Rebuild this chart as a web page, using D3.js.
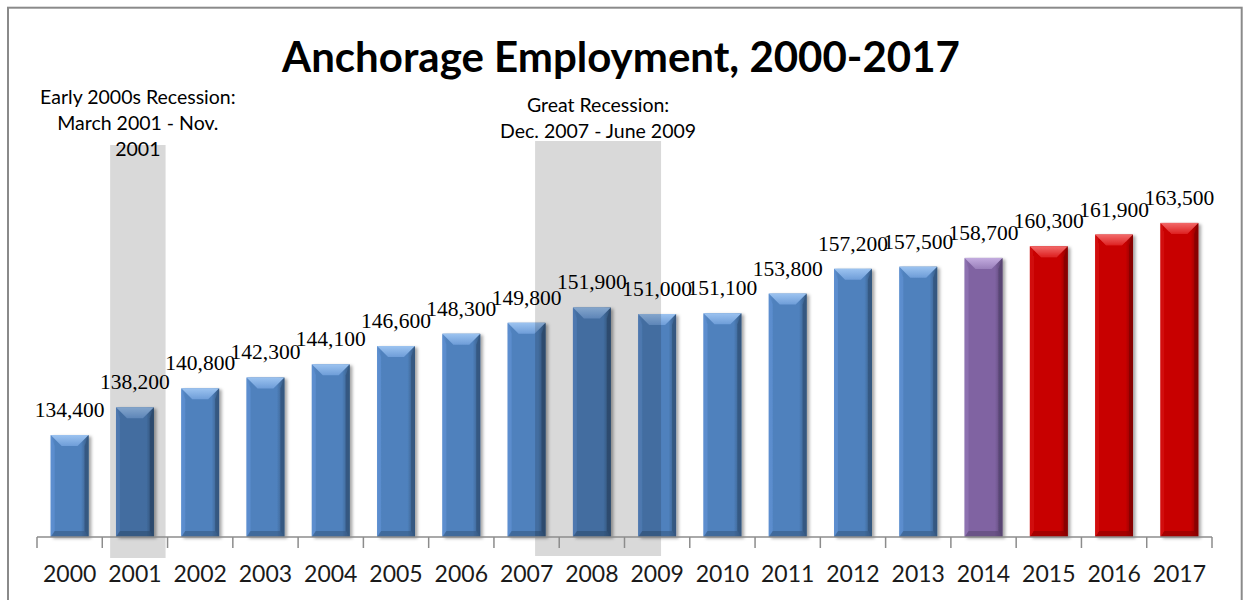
<!DOCTYPE html>
<html>
<head>
<meta charset="utf-8">
<script src="https://cdn.jsdelivr.net/npm/d3@7"></script>
<style>
  html, body { margin: 0; padding: 0; background: #fff; }
  svg { display: block; }
</style>
</head>
<body>
<svg id="chart" width="1243" height="600"></svg>
<script>
// Annual average employment in Anchorage
const years = ["2000","2001","2002","2003","2004","2005","2006","2007","2008",
               "2009","2010","2011","2012","2013","2014","2015","2016","2017"];
const employment = [134400,138200,140800,142300,144100,146600,148300,149800,151900,
                    151000,151100,153800,157200,157500,158700,160300,161900,163500];
// 2014 is the latest preliminary year, 2015-2017 are forecasts
const status = ["actual","actual","actual","actual","actual","actual","actual","actual","actual",
                "actual","actual","actual","actual","actual","preliminary","forecast","forecast","forecast"];

// Recession periods, placed along the year axis (fractional years between bar centres)
const recessionStart = [2000.62, 2007.13];
const recessionEnd   = [2001.47, 2009.06];
const recessionText  = [["Early 2000s Recession:", "March 2001 - Nov.", "2001"],
                        ["Great Recession:", "Dec. 2007 - June 2009"]];

const yDomain = [120000, 170000];
const titleText = "Anchorage Employment, 2000-2017";

const W = 1243, H = 600;
const plot = { left: 37, right: 1212, axis: 537, zero: 540, top: 175.5 };

const palette = {
  actual:      { base: "#4f81bd", light: "#9cc3f0", mid: "#6e9dd8", dark: "#34577f", edge: "#5d8fcf" },
  preliminary: { base: "#8064a2", light: "#c3acdf", mid: "#9a80bb", dark: "#574471", edge: "#8e73b1" },
  forecast:    { base: "#c80000", light: "#f26a6a", mid: "#dd2020", dark: "#860000", edge: "#d21010" }
};

const svg = d3.select("#chart");
const defs = svg.append("defs");

const shadow = defs.append("filter").attr("id", "barShadow")
  .attr("x", "-20%").attr("y", "-10%").attr("width", "150%").attr("height", "130%");
shadow.append("feDropShadow").attr("dx", 2.5).attr("dy", 1.5)
  .attr("stdDeviation", 1.6).attr("flood-color", "#000").attr("flood-opacity", 0.35);

Object.entries(palette).forEach(([k, c]) => {
  const body = defs.append("linearGradient").attr("id", "body-" + k)
    .attr("x1", "0%").attr("x2", "100%").attr("y1", "0%").attr("y2", "0%");
  body.append("stop").attr("offset", "0%").attr("stop-color", c.edge);
  body.append("stop").attr("offset", "12%").attr("stop-color", c.base);
  body.append("stop").attr("offset", "80%").attr("stop-color", c.base);
  body.append("stop").attr("offset", "100%").attr("stop-color", c.dark);

  const top = defs.append("linearGradient").attr("id", "top-" + k)
    .attr("x1", "0%").attr("x2", "0%").attr("y1", "0%").attr("y2", "100%");
  top.append("stop").attr("offset", "0%").attr("stop-color", c.light);
  top.append("stop").attr("offset", "100%").attr("stop-color", c.mid);
});

// Scales
const x = d3.scaleBand().domain(years).range([plot.left, plot.right])
  .paddingInner(0.42).paddingOuter(0.21);
const y = d3.scaleLinear().domain(yDomain).range([plot.zero, plot.top]);
const bw = x.bandwidth();
const yearPos = d3.scaleLinear()
  .domain([+years[0], +years[years.length - 1]])
  .range([x(years[0]) + bw / 2, x(years[years.length - 1]) + bw / 2]);

// Outer frame
svg.append("rect").attr("x", 8).attr("y", 7.7).attr("width", 1233.7).attr("height", 620)
  .attr("fill", "none").attr("stroke", "#8a8a8a").attr("stroke-width", 2);

// Title
svg.append("text").attr("x", 621).attr("y", 72)
  .attr("text-anchor", "middle")
  .style("font-family", "Lato, 'Open Sans', sans-serif")
  .style("font-weight", "bold").style("font-size", "42px").style("fill", "#000")
  .text(titleText);

// Bars with a bevelled face
const data = years.map((yr, i) => ({ year: yr, value: employment[i], status: status[i] }));
const bars = svg.append("g").selectAll("g.bar").data(data).join("g")
  .attr("class", "bar").attr("filter", "url(#barShadow)");

bars.each(function (d) {
  const g = d3.select(this);
  const c = palette[d.status];
  const x0 = x(d.year), x1 = x0 + bw;
  const y0 = y(d.value), y1 = plot.axis;
  const tb = 11, sb = 4, bb = 6;
  g.append("rect").attr("x", x0).attr("y", y0).attr("width", bw).attr("height", y1 - y0)
    .attr("fill", `url(#body-${d.status})`);
  // left and right sides
  g.append("polygon").attr("points", [[x0, y0], [x0 + sb, y0 + tb], [x0 + sb, y1 - bb], [x0, y1]].join(" "))
    .attr("fill", c.edge).attr("opacity", 0.8);
  g.append("polygon").attr("points", [[x1, y0], [x1 - sb, y0 + tb], [x1 - sb, y1 - bb], [x1, y1]].join(" "))
    .attr("fill", c.dark).attr("opacity", 0.85);
  // bottom lip
  g.append("polygon").attr("points", [[x0, y1], [x0 + sb, y1 - bb], [x1 - sb, y1 - bb], [x1, y1]].join(" "))
    .attr("fill", c.dark).attr("opacity", 0.55);
  // top face
  g.append("polygon").attr("points", [[x0, y0], [x1, y0], [x1 - tb, y0 + tb], [x0 + tb, y0 + tb]].join(" "))
    .attr("fill", `url(#top-${d.status})`);
});

// Recession shading laid over the bars
const shadeTop = [145, 141];
const shadeBottom = [558, 556];
svg.append("g").selectAll("rect").data(recessionStart).join("rect")
  .attr("x", (d) => yearPos(d))
  .attr("width", (d, i) => yearPos(recessionEnd[i]) - yearPos(d))
  .attr("y", (d, i) => shadeTop[i])
  .attr("height", (d, i) => shadeBottom[i] - shadeTop[i])
  .attr("fill", "#000").attr("fill-opacity", 0.15);

// Recession captions
const captionLastBaseline = [156, 138];
recessionText.forEach((lines, i) => {
  const cx = (yearPos(recessionStart[i]) + yearPos(recessionEnd[i])) / 2;
  const t = svg.append("text").attr("text-anchor", "middle")
    .style("font-family", "Lato, 'Open Sans', sans-serif")
    .style("font-size", "19.5px").style("fill", "#000");
  lines.forEach((ln, j) => {
    t.append("tspan").attr("x", cx)
      .attr("y", captionLastBaseline[i] - (lines.length - 1 - j) * 26)
      .text(ln);
  });
});

// Value labels
svg.append("g").selectAll("text").data(data).join("text")
  .attr("x", (d) => x(d.year) + bw / 2)
  .attr("y", (d) => y(d.value) - 18)
  .attr("text-anchor", "middle")
  .style("font-family", "'Liberation Serif', 'DejaVu Serif', serif")
  .style("font-size", "21.5px").style("fill", "#000")
  .text((d) => d3.format(",")(d.value));

// Category axis: baseline, boundary ticks and year labels
const axisG = svg.append("g").attr("transform", `translate(0,${plot.axis})`);
axisG.call(d3.axisBottom(x).tickSize(0).tickPadding(0))
  .call((g) => g.select(".domain").remove());
axisG.selectAll(".tick text")
  .attr("y", 45).attr("dy", 0)
  .style("font-family", "Lato, 'Open Sans', sans-serif")
  .style("font-size", "23px").style("fill", "#1a1a1a");
axisG.append("line").attr("x1", plot.left).attr("x2", plot.right)
  .attr("y1", 0).attr("y2", 0).attr("stroke", "#8c8c8c").attr("stroke-width", 1.5);
const boundaries = years.map((yr) => x(yr) - x.step() * x.paddingInner() / 2)
  .concat([plot.right]);
boundaries[0] = plot.left;
axisG.selectAll("line.bound").data(boundaries).join("line").attr("class", "bound")
  .attr("x1", (d) => d).attr("x2", (d) => d).attr("y1", 0).attr("y2", 11)
  .attr("stroke", "#8c8c8c").attr("stroke-width", 1.5);
</script>
</body>
</html>
